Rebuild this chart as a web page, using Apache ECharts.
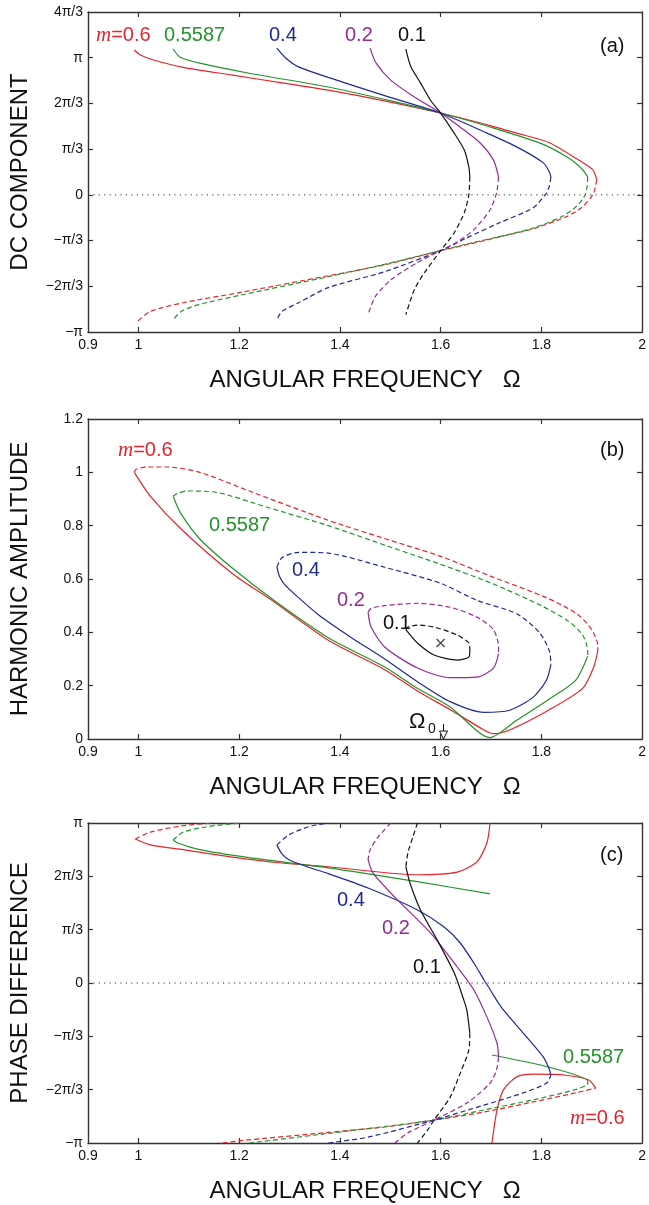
<!DOCTYPE html>
<html>
<head>
<meta charset="utf-8">
<script src="https://cdn.jsdelivr.net/npm/echarts@6/dist/echarts.min.js"></script>
<style>
html,body{margin:0;padding:0;background:#fff;}
#chart{width:649px;height:1205px;}
</style>
</head>
<body>
<div id="chart"></div>
<script>
// ---------- tick / label values ----------
const xLabelVals = [0.9, 1, 1.2, 1.4, 1.6, 1.8, 2];
const xTickVals = [1, 1.2, 1.4, 1.6, 1.8];
// panels (a) and (c) use units of pi/3
const dcLabelVals = [-3, -2, -1, 0, 1, 2, 3, 4];
const dcTickVals = [-2, -1, 0, 1, 2, 3];
const ampLabelVals = [0, 0.2, 0.4, 0.6, 0.8, 1, 1.2];
const ampTickVals = [0.2, 0.4, 0.6, 0.8, 1];
const phLabelVals = [-3, -2, -1, 0, 1, 2, 3];
const phTickVals = [-2, -1, 0, 1, 2];
const zeroLine = [[0.9, 0], [2, 0]];

// ---------- panel (a): DC component (units of pi/3) ----------
const a_m06_solid = [[0.992,3.17],[1.004,3.06],[1.030,2.95],[1.089,2.79],[1.187,2.62],[1.285,2.45],[1.377,2.29],[1.50,2.03],[1.60,1.79],[1.70,1.51],[1.751,1.35],[1.816,1.14],[1.874,0.76],[1.902,0.55],[1.910,0.33]];
const a_m06_dash = [[1.910,0.33],[1.906,0.11],[1.902,0],[1.882,-0.26],[1.849,-0.48],[1.784,-0.74],[1.717,-0.92],[1.652,-1.09],[1.60,-1.22],[1.489,-1.53],[1.377,-1.77],[1.20,-2.14],[1.089,-2.36],[1.024,-2.55],[0.998,-2.77]];
const a_m05587_solid = [[1.069,3.19],[1.083,3.01],[1.122,2.88],[1.220,2.66],[1.377,2.36],[1.50,2.06],[1.60,1.79],[1.70,1.48],[1.80,1.12],[1.855,0.80],[1.882,0.55],[1.892,0.39]];
const a_m05587_dash = [[1.892,0.39],[1.891,0.2],[1.887,0],[1.87,-0.25],[1.84,-0.48],[1.78,-0.74],[1.71,-0.93],[1.65,-1.08],[1.60,-1.22],[1.50,-1.49],[1.377,-1.79],[1.20,-2.20],[1.12,-2.40],[1.085,-2.55],[1.069,-2.73]];
const a_m04_solid = [[1.275,3.21],[1.293,2.99],[1.318,2.80],[1.377,2.57],[1.489,2.17],[1.60,1.79],[1.686,1.38],[1.751,1.05],[1.804,0.70],[1.816,0.50],[1.819,0.39]];
const a_m04_dash = [[1.819,0.39],[1.816,0.2],[1.810,0.04],[1.784,-0.28],[1.717,-0.61],[1.652,-0.94],[1.60,-1.22],[1.489,-1.68],[1.377,-2.03],[1.318,-2.36],[1.285,-2.55],[1.275,-2.73]];
const a_m02_solid = [[1.460,3.21],[1.472,2.88],[1.501,2.51],[1.548,2.14],[1.60,1.79],[1.639,1.48],[1.678,1.14],[1.705,0.76],[1.715,0.39]];
const a_m02_dash = [[1.715,0.39],[1.711,0.04],[1.698,-0.33],[1.666,-0.76],[1.633,-1.03],[1.60,-1.22],[1.554,-1.48],[1.501,-1.86],[1.470,-2.23],[1.456,-2.62]];
const a_m01_solid = [[1.531,3.19],[1.541,2.80],[1.560,2.45],[1.580,2.07],[1.60,1.79],[1.627,1.35],[1.647,0.98],[1.656,0.61],[1.658,0.39]];
const a_m01_dash = [[1.658,0.39],[1.656,0],[1.647,-0.39],[1.627,-0.83],[1.60,-1.22],[1.568,-1.70],[1.548,-2.07],[1.531,-2.62]];

// ---------- panel (b): harmonic amplitude ----------
const b_m06_solid = [[0.992,1.00],[1.024,0.91],[1.089,0.78],[1.187,0.62],[1.265,0.52],[1.377,0.37],[1.489,0.26],[1.554,0.18],[1.619,0.11],[1.686,0.034],[1.705,0.02],[1.737,0.034],[1.816,0.11],[1.882,0.19],[1.904,0.27],[1.912,0.33]];
const b_m06_dash = [[0.992,1.00],[0.996,1.012],[1.018,1.02],[1.057,1.02],[1.122,1.00],[1.220,0.93],[1.377,0.82],[1.50,0.745],[1.60,0.685],[1.70,0.61],[1.81,0.53],[1.87,0.47],[1.90,0.41],[1.912,0.35],[1.912,0.33]];
const b_m05587_solid = [[1.069,0.91],[1.083,0.85],[1.122,0.75],[1.187,0.64],[1.269,0.52],[1.377,0.38],[1.489,0.27],[1.554,0.19],[1.619,0.12],[1.698,0.005],[1.751,0.07],[1.816,0.15],[1.868,0.22],[1.892,0.31]];
const b_m05587_dash = [[1.069,0.91],[1.077,0.92],[1.096,0.93],[1.155,0.925],[1.254,0.87],[1.377,0.80],[1.50,0.72],[1.60,0.655],[1.70,0.585],[1.80,0.50],[1.855,0.44],[1.882,0.39],[1.892,0.33],[1.892,0.31]];
const b_m04_solid = [[1.275,0.645],[1.280,0.61],[1.290,0.58],[1.318,0.53],[1.358,0.465],[1.423,0.38],[1.489,0.30],[1.554,0.215],[1.619,0.14],[1.686,0.10],[1.737,0.108],[1.784,0.157],[1.810,0.22],[1.819,0.28]];
const b_m04_dash = [[1.275,0.645],[1.285,0.68],[1.318,0.70],[1.377,0.697],[1.489,0.644],[1.60,0.584],[1.672,0.52],[1.751,0.47],[1.796,0.40],[1.816,0.33],[1.819,0.28]];
const b_m02_solid = [[1.456,0.475],[1.462,0.42],[1.489,0.345],[1.554,0.266],[1.619,0.23],[1.672,0.232],[1.705,0.266],[1.715,0.32]];
const b_m02_dash = [[1.456,0.475],[1.462,0.49],[1.489,0.50],[1.554,0.509],[1.619,0.494],[1.672,0.457],[1.705,0.41],[1.715,0.345],[1.715,0.32]];
const b_m01_solid = [[1.531,0.41],[1.554,0.36],[1.587,0.315],[1.633,0.296],[1.656,0.307],[1.658,0.333]];
const b_m01_dash = [[1.531,0.41],[1.535,0.42],[1.554,0.427],[1.587,0.42],[1.633,0.39],[1.656,0.36],[1.658,0.333]];
const b_center = [[1.6, 0.36]];

// ---------- panel (c): phase difference (units of pi/3) ----------
const c_m06_dashTop = [[0.994,2.70],[1.024,2.83],[1.089,2.95],[1.15,3.0]];
const c_m06_dashBot = [[1.167,-3.0],[1.2,-2.96],[1.377,-2.80],[1.489,-2.70],[1.587,-2.57],[1.686,-2.42],[1.784,-2.23],[1.868,-2.06],[1.908,-1.97]];
const c_m06_solidBot = [[1.908,-1.97],[1.894,-1.82],[1.849,-1.73],[1.784,-1.71],[1.751,-1.76],[1.725,-2.0],[1.712,-2.38],[1.702,-3.0]];
const c_m06_solidTop = [[1.698,3.0],[1.692,2.63],[1.672,2.27],[1.633,2.08],[1.554,2.03],[1.377,2.18],[1.285,2.25],[1.187,2.36],[1.089,2.50],[1.024,2.59],[0.994,2.70]];
const c_m05587_dashTop = [[1.069,2.68],[1.089,2.83],[1.136,2.93],[1.2,3.0]];
const c_m05587_dashBot = [[1.22,-3.0],[1.377,-2.82],[1.587,-2.57],[1.686,-2.38],[1.784,-2.19],[1.868,-2.0],[1.892,-1.91]];
const c_m05587_solidBot = [[1.892,-1.91],[1.892,-1.84],[1.816,-1.58],[1.702,-1.35]];
const c_m05587_solidTop = [[1.069,2.68],[1.077,2.63],[1.122,2.50],[1.220,2.35],[1.377,2.16],[1.554,1.90],[1.698,1.67]];
const c_m04_dashTop = [[1.275,2.59],[1.299,2.78],[1.338,2.93],[1.377,3.0]];
const c_m04_dashBot = [[1.377,-3.0],[1.456,-2.89],[1.587,-2.57],[1.686,-2.29],[1.764,-2.06],[1.810,-1.88],[1.819,-1.73]];
const c_m04_solid = [[1.819,-1.73],[1.815,-1.60],[1.804,-1.39],[1.764,-0.94],[1.725,-0.51],[1.711,-0.32],[1.700,-0.15],[1.686,0.06],[1.666,0.375],[1.639,0.75],[1.607,1.05],[1.554,1.37],[1.456,1.78],[1.377,2.05],[1.338,2.17],[1.299,2.31],[1.285,2.42],[1.275,2.59]];
const c_m02_dashTop = [[1.501,3.0],[1.476,2.74],[1.460,2.50],[1.456,2.31]];
const c_m02_solid = [[1.456,2.31],[1.466,2.06],[1.509,1.61],[1.580,0.94],[1.633,0.30],[1.666,-0.13],[1.692,-0.64],[1.712,-1.13],[1.715,-1.39]];
const c_m02_dashBot = [[1.715,-1.39],[1.711,-1.63],[1.698,-1.88],[1.652,-2.25],[1.587,-2.57],[1.535,-2.81],[1.509,-3.0]];
const c_m01_dashTop = [[1.554,3.0],[1.545,2.74],[1.535,2.44],[1.531,2.18]];
const c_m01_solid = [[1.531,2.18],[1.539,1.88],[1.560,1.37],[1.593,0.81],[1.627,0.19],[1.646,-0.32],[1.652,-0.51],[1.658,-0.94]];
const c_m01_dashBot = [[1.658,-0.94],[1.656,-1.26],[1.639,-1.69],[1.619,-2.14],[1.587,-2.57],[1.574,-2.76],[1.554,-3.0]];

// ---------- styling ----------
const COL = {red:'#e8232b', green:'#22952a', blue:'#1f2a94', purple:'#962a96', black:'#111111'};
const FONT = "'Liberation Sans', Arial, Helvetica, sans-serif";
const AX = '#333';

function piLab(v){
  const n = Math.round(v);
  if (n === 0) return '0';
  const s = n < 0 ? '\u2212' : '';
  const a = Math.abs(n);
  if (a === 3) return s + '\u03c0';
  return s + (a === 1 ? '' : a) + '\u03c0/3';
}

const grids = [
  {left: 87, right: 3, top: 12, height: 320},
  {left: 87, right: 3, top: 419, height: 320},
  {left: 87, right: 3, top: 823, height: 320}
];
const yDefs = [
  {min: -3, max: 4, labels: dcLabelVals, ticks: dcTickVals, fmt: piLab, name: 'DC COMPONENT'},
  {min: 0, max: 1.2, labels: ampLabelVals, ticks: ampTickVals, fmt: v => String(+v.toFixed(1)), name: 'HARMONIC AMPLITUDE'},
  {min: -3, max: 3, labels: phLabelVals, ticks: phTickVals, fmt: piLab, name: 'PHASE DIFFERENCE'}
];

const xAxes = [], yAxes = [];
grids.forEach((g, i) => {
  xAxes.push({
    gridIndex: i, type: 'value', min: 0.9, max: 2, position: 'bottom',
    axisLine: {onZero: false, lineStyle: {color: AX, width: 1.4}},
    axisTick: {inside: true, length: 5, customValues: xTickVals, lineStyle: {color: AX, width: 1.2}},
    axisLabel: {customValues: xLabelVals, fontSize: 14, color: '#111', fontFamily: FONT, margin: 6},
    splitLine: {show: false},
    name: 'ANGULAR FREQUENCY   \u03a9', nameLocation: 'middle', nameGap: 36,
    nameTextStyle: {fontSize: 24, color: '#111', fontFamily: FONT}
  });
  xAxes.push({
    gridIndex: i, type: 'value', min: 0.9, max: 2, position: 'top',
    axisLine: {onZero: false, lineStyle: {color: AX, width: 1.4}},
    axisTick: {inside: true, length: 5, customValues: xTickVals, lineStyle: {color: AX, width: 1.2}},
    axisLabel: {show: false}, splitLine: {show: false}
  });
  const d = yDefs[i];
  yAxes.push({
    gridIndex: i, type: 'value', min: d.min, max: d.max, position: 'left',
    axisLine: {show: true, onZero: false, lineStyle: {color: AX, width: 1.4}},
    axisTick: {show: true, inside: true, length: 5, customValues: d.ticks, lineStyle: {color: AX, width: 1.2}},
    axisLabel: {customValues: d.labels, formatter: d.fmt, fontSize: 14, color: '#111', fontFamily: FONT, margin: 5},
    splitLine: {show: false},
    name: d.name, nameLocation: 'middle', nameGap: 56,
    nameTextStyle: {fontSize: 24, color: '#111', fontFamily: FONT}
  });
  yAxes.push({
    gridIndex: i, type: 'value', min: d.min, max: d.max, position: 'right',
    axisLine: {show: true, onZero: false, lineStyle: {color: AX, width: 1.4}},
    axisTick: {show: true, inside: true, length: 5, customValues: d.ticks, lineStyle: {color: AX, width: 1.2}},
    axisLabel: {show: false}, splitLine: {show: false}
  });
});

function ln(g, data, color, dashed){
  return {
    type: 'line', xAxisIndex: 2*g, yAxisIndex: 2*g, data: data,
    showSymbol: false, symbol: 'none', smooth: 0.25, silent: true, z: 3,
    lineStyle: {color: color, width: 1.2, type: dashed ? [5, 3] : 'solid'}
  };
}
function zero(g){
  return {type: 'line', xAxisIndex: 2*g, yAxisIndex: 2*g, data: zeroLine, showSymbol: false, symbol: 'none', silent: true, z: 1,
    lineStyle: {color: '#333', width: 1, type: [1.2, 4.2]}};
}

const series = [
  zero(0), zero(2),
  ln(0, a_m06_solid, COL.red, false), ln(0, a_m06_dash, COL.red, true),
  ln(0, a_m05587_solid, COL.green, false), ln(0, a_m05587_dash, COL.green, true),
  ln(0, a_m04_solid, COL.blue, false), ln(0, a_m04_dash, COL.blue, true),
  ln(0, a_m02_solid, COL.purple, false), ln(0, a_m02_dash, COL.purple, true),
  ln(0, a_m01_solid, COL.black, false), ln(0, a_m01_dash, COL.black, true),

  ln(1, b_m06_solid, COL.red, false), ln(1, b_m06_dash, COL.red, true),
  ln(1, b_m05587_solid, COL.green, false), ln(1, b_m05587_dash, COL.green, true),
  ln(1, b_m04_solid, COL.blue, false), ln(1, b_m04_dash, COL.blue, true),
  ln(1, b_m02_solid, COL.purple, false), ln(1, b_m02_dash, COL.purple, true),
  ln(1, b_m01_solid, COL.black, false), ln(1, b_m01_dash, COL.black, true),
  {type: 'scatter', xAxisIndex: 2, yAxisIndex: 2, data: b_center, silent: true,
   symbol: 'path://M0,0L10,10M10,0L0,10', symbolSize: 8,
   itemStyle: {color: 'rgba(0,0,0,0)', borderColor: '#111', borderWidth: 1.2}},

  ln(2, c_m06_dashTop, COL.red, true), ln(2, c_m06_dashBot, COL.red, true),
  ln(2, c_m06_solidBot, COL.red, false), ln(2, c_m06_solidTop, COL.red, false),
  ln(2, c_m05587_dashTop, COL.green, true), ln(2, c_m05587_dashBot, COL.green, true),
  ln(2, c_m05587_solidBot, COL.green, false), ln(2, c_m05587_solidTop, COL.green, false),
  ln(2, c_m04_dashTop, COL.blue, true), ln(2, c_m04_dashBot, COL.blue, true), ln(2, c_m04_solid, COL.blue, false),
  ln(2, c_m02_dashTop, COL.purple, true), ln(2, c_m02_solid, COL.purple, false), ln(2, c_m02_dashBot, COL.purple, true),
  ln(2, c_m01_dashTop, COL.black, true), ln(2, c_m01_solid, COL.black, false), ln(2, c_m01_dashBot, COL.black, true)
];

function txt(x, y, text, color, size){
  return {type: 'text', x: x, y: y, silent: true, z: 10,
    style: {text: text, fill: color, font: (size || 20) + 'px ' + FONT, textAlign: 'left', textVerticalAlign: 'middle'}};
}
function mlab(x, y){
  return {type: 'text', x: x, y: y, silent: true, z: 10,
    style: {text: '{i|m}{n|=0.6}', textAlign: 'left', textVerticalAlign: 'middle',
      rich: {
        i: {fill: COL.red, color: COL.red, fontSize: 21, fontStyle: 'italic', fontFamily: "'Liberation Serif', 'Times New Roman', serif"},
        n: {fill: COL.red, color: COL.red, fontSize: 20, fontFamily: FONT}
      }}};
}

const graphics = [
  // panel (a)
  mlab(96, 35), txt(164, 35, '0.5587', COL.green), txt(269, 35, '0.4', COL.blue),
  txt(345, 35, '0.2', COL.purple), txt(398, 35, '0.1', COL.black), txt(600, 46, '(a)', '#111'),
  // panel (b)
  mlab(118, 450), txt(209, 525, '0.5587', COL.green), txt(292, 570, '0.4', COL.blue),
  txt(337, 600, '0.2', COL.purple), txt(383, 623, '0.1', COL.black), txt(600, 450, '(b)', '#111'),
  txt(409, 722, '\u03a9', '#111', 22), txt(428, 729, '0', '#111', 14),
  {type: 'line', silent: true, z: 10, shape: {x1: 443.5, y1: 724, x2: 443.5, y2: 733}, style: {stroke: '#111', lineWidth: 1}},
  {type: 'polygon', silent: true, z: 10, shape: {points: [[439.5, 731], [447.5, 731], [443.5, 739]]}, style: {fill: '#fff', stroke: '#111', lineWidth: 1}},
  // panel (c)
  txt(600, 855, '(c)', '#111'), txt(337, 900, '0.4', COL.blue), txt(382, 928, '0.2', COL.purple),
  txt(413, 967, '0.1', COL.black), txt(563, 1057, '0.5587', COL.green), mlab(570, 1118)
];

const chart = echarts.init(document.getElementById('chart'), null, {renderer: 'canvas'});
chart.setOption({
  backgroundColor: '#fff',
  animation: false,
  grid: grids,
  xAxis: xAxes,
  yAxis: yAxes,
  series: series,
  graphic: graphics
});
</script>
</body>
</html>
